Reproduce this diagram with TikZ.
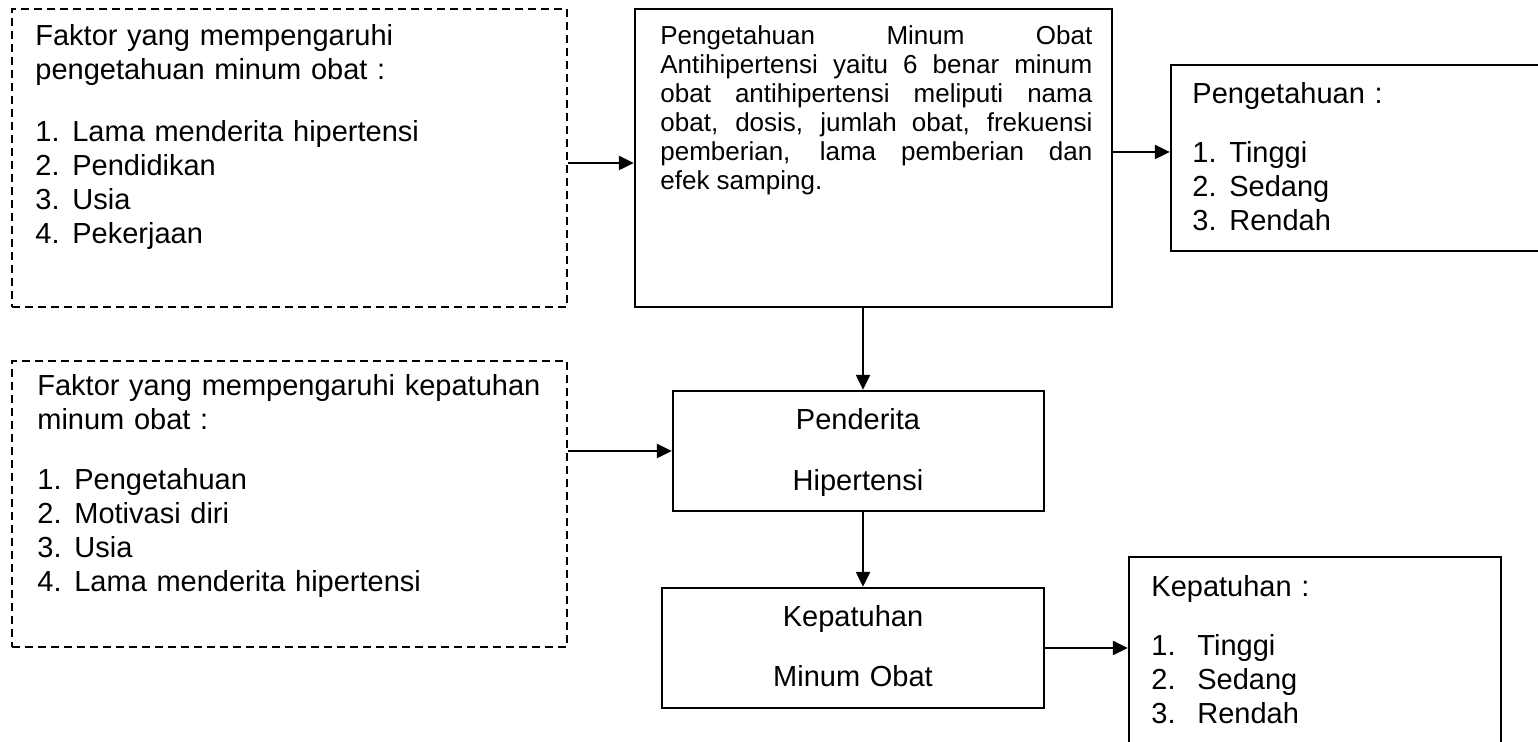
\documentclass[tikz,border=0pt]{standalone}
\usepackage{fontspec}
\setmainfont{Liberation Sans}
\usetikzlibrary{arrows.meta,fit}
\newcommand\myitem[1]{\makebox[18.5pt][l]{#1}}
\newcommand\myitemw[1]{\makebox[23pt][l]{#1}}
\tikzset{
  box/.style={draw, line width=1.15pt, inner sep=0pt},
  dbox/.style={draw, line width=1pt, dash pattern=on 4pt off 2.5pt, inner sep=0pt},
  txt/.style={inner sep=0pt, anchor=base west, align=left, text width=#1,
              font=\fontsize{14.5pt}{17pt}\selectfont},
  txt/.default=270pt,
  arr/.style={line width=1.1pt, -{Triangle[length=7.5pt,width=7pt]}},
}
\begin{document}
\begin{tikzpicture}[x=0.5pt,y=-0.5pt]
\useasboundingbox (0,0) rectangle (1538,742);
% boxes
\node[dbox, fit={(12,9) (567,307)}] (A) {};
\node[box, fit={(635,9) (1112,307)}] (B) {};
\node[box, fit={(1171,65) (1560,251)}] (C) {};
\node[dbox, fit={(12,361) (567,647)}] (D) {};
\node[box, fit={(673,391) (1044,511)}] (E) {};
\node[box, fit={(662,588) (1044,708)}] (F) {};
\node[box, fit={(1129,557) (1501,770)}] (G) {};
% texts
\node[txt] (At) at (35,46) {Faktor yang mempengaruhi\\pengetahuan minum obat :\\[14pt]%
\myitem{1.}Lama menderita hipertensi\\\myitem{2.}Pendidikan\\\myitem{3.}Usia\\\myitem{4.}Pekerjaan};
\node[txt=216pt, align=justify, font=\fontsize{13pt}{14.5pt}\selectfont] (Bt) at (660,45)
{\tolerance=10000\hbadness=10000 Pengetahuan Minum Obat\linebreak Antihipertensi yaitu 6 benar minum\linebreak obat antihipertensi meliputi nama\linebreak obat, dosis, jumlah obat, frekuensi\linebreak pemberian, lama pemberian dan\linebreak efek samping.};
\node[txt=150pt] (Ct) at (1192,104) {Pengetahuan :\\[12.5pt]\myitem{1.}Tinggi\\\myitem{2.}Sedang\\\myitem{3.}Rendah};
\node[txt] (Dt) at (37,396) {Faktor yang mempengaruhi kepatuhan\\minum obat :\\[13pt]%
\myitem{1.}Pengetahuan\\\myitem{2.}Motivasi diri\\\myitem{3.}Usia\\\myitem{4.}Lama menderita hipertensi};
\node[txt=150pt, align=center, anchor=base] (Et) at (858,430) {Penderita\\[13.5pt]Hipertensi};
\node[txt=150pt, align=center, anchor=base] (Ft) at (853,627) {Kepatuhan\\[13pt]Minum Obat};
\node[txt=150pt] (Gt) at (1151,597) {Kepatuhan :\\[12.5pt]\myitemw{1.}Tinggi\\\myitemw{2.}Sedang\\\myitemw{3.}Rendah};
% connectors
\coordinate (vx) at (863,0);
\draw[arr] ([yshift=-2.5pt]A.east) -- ([yshift=-2.5pt]A.east -| B.west);
\draw[arr] ([yshift=3pt]B.east) -- ([yshift=3pt]B.east -| C.west);
\draw[arr] (B.south -| vx) -- (E.north -| vx);
\draw[arr] (D.east |- E.west) -- (E.west);
\draw[arr] (E.south -| vx) -- (F.north -| vx);
\draw[arr] (F.east) -- (F.east -| G.west);
\end{tikzpicture}
\end{document}
